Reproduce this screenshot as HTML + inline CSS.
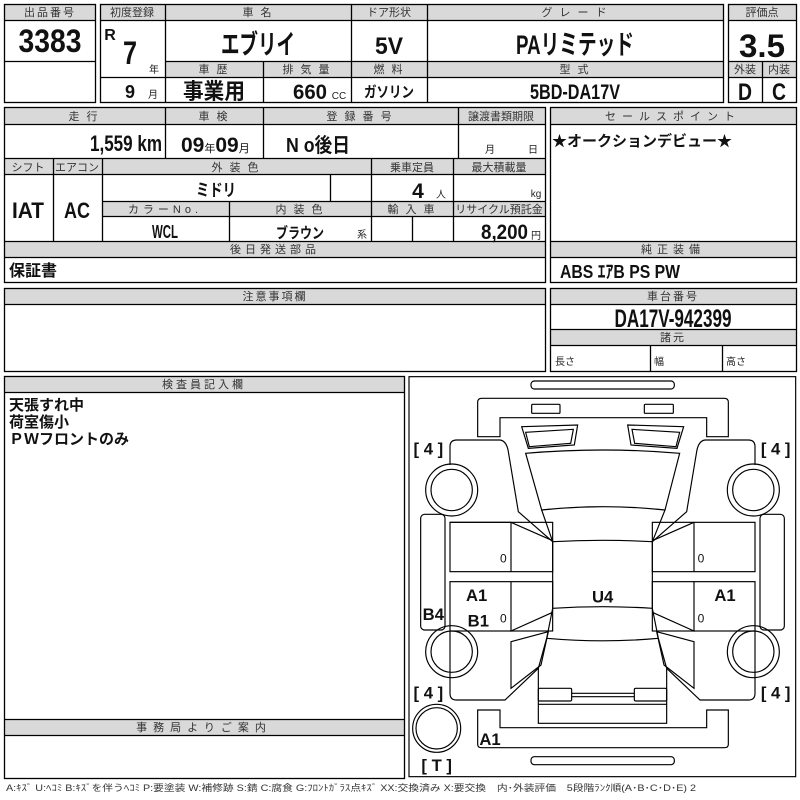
<!DOCTYPE html>
<html><head><meta charset="utf-8"><style>
html,body{margin:0;padding:0;background:#fff;}
svg{display:block;}
text{font-family:"Liberation Sans","Noto Sans CJK JP",sans-serif;}
.h{font-size:11px;fill:#333;text-anchor:middle;letter-spacing:2px;}
.b{font-family:"Liberation Sans Narrow","Liberation Sans","Noto Sans CJK JP",sans-serif;font-weight:bold;fill:#111;text-anchor:middle;}
.s{font-size:10px;fill:#222;text-anchor:middle;}
.j{font-family:"Liberation Sans","Noto Sans CJK JP",sans-serif;font-weight:bold;fill:#111;}
</style></head><body>
<svg width="800" height="800" viewBox="0 0 800 800" xmlns="http://www.w3.org/2000/svg">
<g fill="#d9d9d9" stroke="none">
<rect x="4" y="4" width="91" height="16"/>
<rect x="100" y="4" width="623" height="16"/>
<rect x="165" y="61" width="558" height="16"/>
<rect x="728" y="4" width="68" height="16"/>
<rect x="728" y="61" width="68" height="16"/>
<rect x="4" y="107" width="541" height="17"/>
<rect x="4" y="158" width="541" height="16"/>
<rect x="102" y="201" width="443" height="15"/>
<rect x="4" y="241" width="541" height="16"/>
<rect x="550" y="107" width="246" height="17"/>
<rect x="550" y="241" width="246" height="16"/>
<rect x="4" y="288" width="541" height="16"/>
<rect x="550" y="288" width="246" height="16"/>
<rect x="550" y="329" width="246" height="16"/>
<rect x="4" y="376" width="400" height="16"/>
<rect x="4" y="719" width="400" height="16"/>
</g>
<g fill="none" stroke="#000" stroke-width="1.3">
<rect x="4.5" y="4.5" width="91" height="98"/>
<line x1="4" y1="20.5" x2="95" y2="20.5"/><line x1="4" y1="61.5" x2="95" y2="61.5"/>
<rect x="100.5" y="4.5" width="623" height="98"/>
<line x1="100" y1="20.5" x2="723" y2="20.5"/>
<line x1="165" y1="61.5" x2="723" y2="61.5"/>
<line x1="100" y1="77.5" x2="723" y2="77.5"/>
<line x1="165.5" y1="4" x2="165.5" y2="102"/>
<line x1="351.5" y1="4" x2="351.5" y2="102"/>
<line x1="427.5" y1="4" x2="427.5" y2="102"/>
<line x1="263.5" y1="61" x2="263.5" y2="102"/>
<rect x="728.5" y="4.5" width="68" height="98"/>
<line x1="728" y1="20.5" x2="796" y2="20.5"/><line x1="728" y1="61.5" x2="796" y2="61.5"/><line x1="728" y1="77.5" x2="796" y2="77.5"/>
<line x1="762.5" y1="61" x2="762.5" y2="102"/>

<rect x="4.5" y="107.5" width="541" height="175"/>
<line x1="4" y1="124.5" x2="545" y2="124.5"/>
<line x1="4" y1="158.5" x2="545" y2="158.5"/>
<line x1="4" y1="174.5" x2="545" y2="174.5"/>
<line x1="102" y1="201.5" x2="545" y2="201.5"/>
<line x1="102" y1="216.5" x2="545" y2="216.5"/>
<line x1="4" y1="241.5" x2="545" y2="241.5"/>
<line x1="4" y1="257.5" x2="545" y2="257.5"/>
<line x1="165.5" y1="107" x2="165.5" y2="158"/>
<line x1="263.5" y1="107" x2="263.5" y2="158"/>
<line x1="458.5" y1="107" x2="458.5" y2="158"/>
<line x1="53.5" y1="158" x2="53.5" y2="241"/>
<line x1="102.5" y1="158" x2="102.5" y2="241"/>
<line x1="371.5" y1="158" x2="371.5" y2="241"/>
<line x1="453.5" y1="158" x2="453.5" y2="241"/>
<line x1="330.5" y1="174" x2="330.5" y2="201"/>
<line x1="229.5" y1="201" x2="229.5" y2="241"/>
<line x1="412.5" y1="216" x2="412.5" y2="241"/>

<rect x="550.5" y="107.5" width="246" height="175"/>
<line x1="550" y1="124.5" x2="796" y2="124.5"/>
<line x1="550" y1="241.5" x2="796" y2="241.5"/>
<line x1="550" y1="257.5" x2="796" y2="257.5"/>

<rect x="4.5" y="288.5" width="541" height="83"/>
<line x1="4" y1="304.5" x2="545" y2="304.5"/>
<rect x="550.5" y="288.5" width="246" height="83"/>
<line x1="550" y1="304.5" x2="796" y2="304.5"/>
<line x1="550" y1="329.5" x2="796" y2="329.5"/>
<line x1="550" y1="345.5" x2="796" y2="345.5"/>
<line x1="650.5" y1="345" x2="650.5" y2="371"/>
<line x1="722.5" y1="345" x2="722.5" y2="371"/>

<rect x="4.5" y="376.5" width="400" height="402"/>
<line x1="4" y1="392.5" x2="404" y2="392.5"/>
<line x1="4" y1="719.5" x2="404" y2="719.5"/>
<line x1="4" y1="735.5" x2="404" y2="735.5"/>
</g>

<text class="h" x="50" y="16">出品番号</text>
<text class="h" x="132" y="16" style="letter-spacing:0">初度登録</text>
<text class="h" x="258" y="16">車 名</text>
<text class="h" x="389" y="16" style="letter-spacing:0">ドア形状</text>
<text class="h" x="575" y="16">グ レ ー ド</text>
<text class="h" x="762" y="16" style="letter-spacing:0">評価点</text>
<text class="h" x="214" y="73">車 歴</text>
<text class="h" x="307" y="73">排 気 量</text>
<text class="h" x="389" y="73">燃 料</text>
<text class="h" x="575" y="73">型 式</text>
<text class="h" x="745" y="73" style="letter-spacing:0">外装</text>
<text class="h" x="779" y="73" style="letter-spacing:0">内装</text>

<text class="b" x="50" y="52" font-size="32" textLength="63" lengthAdjust="spacingAndGlyphs">3383</text>
<text class="b" x="110" y="40" font-size="16">R</text>
<text class="b" x="130" y="64" font-size="32" textLength="14" lengthAdjust="spacingAndGlyphs">7</text>
<text class="s" x="154" y="73" font-size="11">年</text>
<text class="b" x="130" y="98" font-size="18">9</text>
<text class="s" x="153" y="98">月</text>
<text class="b" x="258" y="54" font-size="27" textLength="74" lengthAdjust="spacingAndGlyphs">エブリイ</text>
<text class="b" x="389" y="54" font-size="24" textLength="28" lengthAdjust="spacingAndGlyphs">5V</text>
<text class="b" x="575" y="54" font-size="27" textLength="118" lengthAdjust="spacingAndGlyphs">PAリミテッド</text>
<text class="b" x="214" y="99" font-size="22" textLength="62" lengthAdjust="spacingAndGlyphs">事業用</text>
<text class="b" x="310" y="99" font-size="21" textLength="34" lengthAdjust="spacingAndGlyphs">660</text>
<text class="s" x="339" y="99" font-size="9">CC</text>
<text class="b" x="389" y="97" font-size="15" textLength="50" lengthAdjust="spacingAndGlyphs">ガソリン</text>
<text class="b" x="575" y="99" font-size="21" textLength="90" lengthAdjust="spacingAndGlyphs">5BD-DA17V</text>
<text class="b" x="762" y="57" font-size="32" textLength="46" lengthAdjust="spacingAndGlyphs">3.5</text>
<text class="b" x="745" y="100" font-size="24" textLength="14" lengthAdjust="spacingAndGlyphs">D</text>
<text class="b" x="779" y="100" font-size="24" textLength="14" lengthAdjust="spacingAndGlyphs">C</text>

<text class="h" x="84" y="120">走 行</text>
<text class="h" x="214" y="120">車 検</text>
<text class="h" x="360" y="120">登 録 番 号</text>
<text class="h" x="501" y="120" style="letter-spacing:0">譲渡書類期限</text>
<text class="b" x="162" y="151" font-size="22" style="text-anchor:end" textLength="72" lengthAdjust="spacingAndGlyphs">1,559 km</text>
<text class="b" x="181" y="152" font-size="21" style="text-anchor:start">09<tspan font-size="11" font-weight="normal">年</tspan>09<tspan font-size="11" font-weight="normal">月</tspan></text>
<text class="b" x="286" y="152" font-size="20" style="text-anchor:start" textLength="64" lengthAdjust="spacingAndGlyphs">N o後日</text>
<text class="s" x="490" y="153" font-size="11">月</text>
<text class="s" x="533" y="153" font-size="11">日</text>
<text class="h" x="28" y="171" style="letter-spacing:0">シフト</text>
<text class="h" x="77" y="171" style="letter-spacing:0">エアコン</text>
<text class="h" x="236" y="171">外 装 色</text>
<text class="h" x="412" y="171" style="letter-spacing:0">乗車定員</text>
<text class="h" x="499" y="171" style="letter-spacing:0">最大積載量</text>
<text class="b" x="216" y="196" font-size="17" textLength="40" lengthAdjust="spacingAndGlyphs">ミドリ</text>
<text class="b" x="418" y="198" font-size="21">4</text>
<text class="s" x="441" y="198">人</text>
<text class="s" x="536" y="197" font-size="11">kg</text>
<text class="b" x="28" y="218" font-size="22" textLength="32" lengthAdjust="spacingAndGlyphs">IAT</text>
<text class="b" x="77" y="218" font-size="22" textLength="26" lengthAdjust="spacingAndGlyphs">AC</text>
<text class="h" x="165" y="213" style="letter-spacing:4px">カラーNo.</text>
<text class="h" x="300" y="213">内 装 色</text>
<text class="h" x="412" y="213">輸 入 車</text>
<text class="h" x="499" y="213" style="letter-spacing:0">リサイクル預託金</text>
<text class="b" x="165" y="238" font-size="18" textLength="26" lengthAdjust="spacingAndGlyphs">WCL</text>
<text class="b" x="300" y="238" font-size="15" textLength="48" lengthAdjust="spacingAndGlyphs">ブラウン</text>
<text class="s" x="362" y="238">系</text>
<text class="b" x="528" y="239" font-size="21" style="text-anchor:end" textLength="47" lengthAdjust="spacingAndGlyphs">8,200</text>
<text class="s" x="536" y="239" font-size="11">円</text>
<text class="h" x="275" y="253" style="letter-spacing:4px">後日発送部品</text>
<text class="j" x="9" y="276" font-size="16">保証書</text>
<text class="h" x="673" y="120" style="letter-spacing:6px">セールスポイント</text>
<text class="j" x="552" y="146" font-size="15">★オークションデビュー★</text>
<text class="h" x="673" y="253" style="letter-spacing:5px">純正装備</text>
<text class="b" x="560" y="278" font-size="18" style="text-anchor:start" textLength="120" lengthAdjust="spacingAndGlyphs">ABS ｴｱB PS PW</text>

<text class="h" x="275" y="300">注意事項欄</text>
<text class="h" x="673" y="300">車台番号</text>
<text class="b" x="673" y="327" font-size="25" textLength="117" lengthAdjust="spacingAndGlyphs">DA17V-942399</text>
<text class="h" x="673" y="341">諸元</text>
<text class="s" x="555" y="365" font-size="11" style="text-anchor:start">長さ</text>
<text class="s" x="654" y="365" font-size="11" style="text-anchor:start">幅</text>
<text class="s" x="726" y="365" font-size="11" style="text-anchor:start">高さ</text>

<text class="h" x="204" y="388" style="letter-spacing:3px">検査員記入欄</text>
<text class="j" x="9" y="410" font-size="15">天張すれ中</text>
<text class="j" x="9" y="427" font-size="15">荷室傷小</text>
<text class="j" x="9" y="444" font-size="15">ＰＷフロントのみ</text>
<text class="h" x="204" y="731" style="letter-spacing:6px">事務局よりご案内</text>

<text x="6" y="791" font-size="9" fill="#333" textLength="690" lengthAdjust="spacingAndGlyphs">A:ｷｽﾞ U:ﾍｺﾐ B:ｷｽﾞを伴うﾍｺﾐ P:要塗装 W:補修跡 S:錆 C:腐食 G:ﾌﾛﾝﾄｶﾞﾗｽ点ｷｽﾞ XX:交換済み X:要交換　内･外装評価　5段階ﾗﾝｸ順(A･B･C･D･E) 2</text>

<svg x="405" y="375" width="395" height="425" viewBox="0 0 1185 1275">
<g fill="none" stroke="#000" stroke-width="3.5">
<rect x="12" y="5" width="1160" height="1200"/>
<rect x="378" y="18" width="430" height="24" rx="10"/>
<path d="M218,185 V82 Q218,70 230,70 H958 Q970,70 970,82 V185 H905 V128 H285 V185 Z"/>
<rect x="380" y="88" width="85" height="27" rx="3"/>
<rect x="718" y="88" width="87" height="27" rx="3"/>
<path d="M350,155 L518,150 L508,210 L370,220 Z"/>
<path d="M362,172 L505,163 L497,205 L373,215 Z"/>
<path d="M836,155 L668,150 L678,210 L816,220 Z"/>
<path d="M824,172 L681,163 L689,205 L813,215 Z"/>
<path d="M362,235 Q593,215 824,235 L780,405 Q593,385 410,405 Z"/>
<path d="M410,405 L443,500 Q593,492 742,500 L780,405"/>
<path d="M443,500 L443,700 Q593,690 742,700 L742,500"/>
<path d="M443,700 L425,790 Q593,805 760,790 L742,700"/>
<path d="M425,790 L400,880 L400,1045 H785 V880 L760,790"/>
<rect x="400" y="940" width="100" height="38" rx="4"/>
<rect x="688" y="940" width="97" height="38" rx="4"/>
<path d="M500,955 H688 M500,965 H688"/>
<path d="M400,988 H785"/>
<path d="M218,1005 V1108 Q218,1118 230,1118 H958 Q970,1118 970,1108 V1005 H905 V1058 H285 V1005 Z"/>
<rect x="378" y="1145" width="430" height="24" rx="10"/>
<path d="M135,270 V215 Q135,195 155,195 H285 Q305,198 310,230 L340,410 L443,500"/>
<path d="M135,442 H318 L443,497 M318,442 V590"/>
<rect x="135" y="442" width="308" height="148"/>
<rect x="135" y="620" width="308" height="148"/>
<path d="M318,620 V768 L443,712"/>
<path d="M135,768 V955 Q135,975 155,975 H300 L400,880"/>
<path d="M318,800 L430,770 L408,870 L318,940 Z"/>
<rect x="47" y="418" width="73" height="347" rx="12"/>
<circle cx="140" cy="345" r="78"/><circle cx="140" cy="345" r="62"/>
<circle cx="140" cy="830" r="78"/><circle cx="140" cy="830" r="62"/>
<circle cx="95" cy="1060" r="72"/><circle cx="95" cy="1060" r="62"/>
<path d="M1050,270 V215 Q1050,195 1030,195 H900 Q880,198 875,230 L845,410 L742,500"/>
<path d="M867,442 L742,497 M867,442 V590"/>
<rect x="742" y="442" width="308" height="148"/>
<rect x="742" y="620" width="308" height="148"/>
<path d="M867,620 V768 L742,712"/>
<path d="M1050,768 V955 Q1050,975 1030,975 H885 L785,880"/>
<path d="M867,800 L755,770 L777,870 L867,940 Z"/>
<rect x="1065" y="418" width="73" height="347" rx="12"/>
<circle cx="1045" cy="345" r="78"/><circle cx="1045" cy="345" r="62"/>
<circle cx="1045" cy="830" r="78"/><circle cx="1045" cy="830" r="62"/>
</g>
<g font-family="Liberation Sans, sans-serif" font-weight="bold" fill="#111" text-anchor="middle">
<text x="70" y="238" font-size="50">[ 4 ]</text>
<text x="1112" y="238" font-size="50">[ 4 ]</text>
<text x="70" y="970" font-size="50">[ 4 ]</text>
<text x="1112" y="970" font-size="50">[ 4 ]</text>
<text x="95" y="1188" font-size="50">[ T ]</text>
<text x="215" y="678" font-size="50">A1</text>
<text x="220" y="755" font-size="50">B1</text>
<text x="85" y="735" font-size="50">B4</text>
<text x="960" y="678" font-size="50">A1</text>
<text x="255" y="1110" font-size="50">A1</text>
<text x="593" y="683" font-size="50">U4</text>
<g font-weight="normal" font-size="36"><text x="295" y="563">0</text><text x="295" y="743">0</text><text x="888" y="563">0</text><text x="888" y="743">0</text></g>
</g>
</svg>
</svg>
</body></html>
